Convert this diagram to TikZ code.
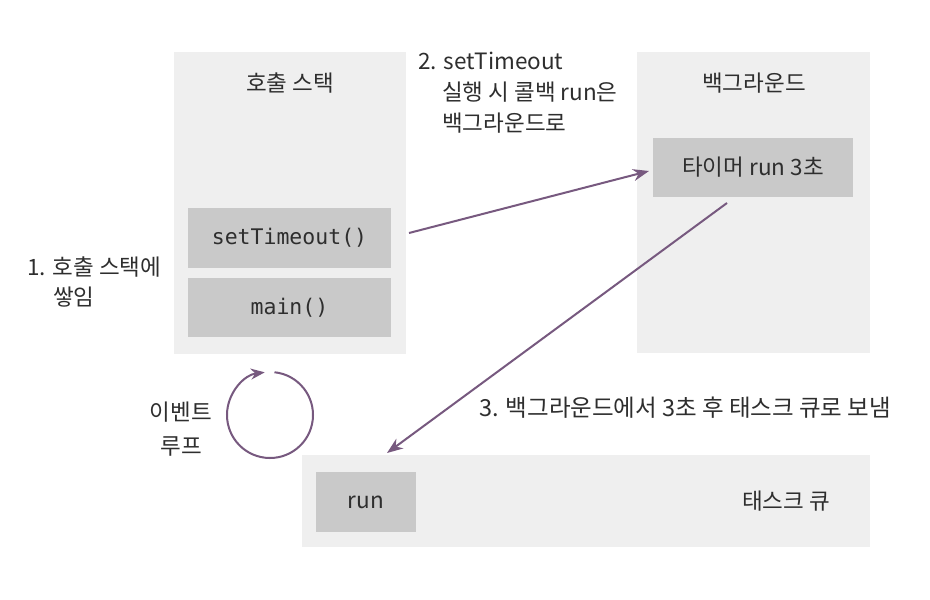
\documentclass[tikz,border=0pt]{standalone}
\usepackage{fontspec}
\setmainfont{Noto Sans CJK KR}
\newfontfamily\codefont{DejaVu Sans Mono}
\usetikzlibrary{arrows.meta}
\definecolor{panelbg}{HTML}{EFEFEF}
\definecolor{boxbg}{HTML}{C9C9C9}
\definecolor{arrowc}{HTML}{77597F}
\definecolor{txt}{HTML}{2E2E2E}
\begin{document}
\begin{tikzpicture}[x=1pt,y=-1pt,
  panel/.style={fill=panelbg,draw=none},
  inbox/.style={fill=boxbg,draw=none},
  lbl/.style={text=txt,font=\fontsize{22.5}{31}\selectfont,inner sep=0pt},
  codel/.style={text=txt,font=\codefont\fontsize{21.5}{26}\selectfont,inner sep=0pt},
  flow/.style={draw=arrowc,line width=2pt,-{Stealth[length=16pt,width=12pt]}}]
\useasboundingbox[fill=white] (0,0) rectangle (930,600);
% panels
\path[panel] (174,52) rectangle (406,354);
\path[panel] (637,52) rectangle (870,353);
\path[panel] (302,455) rectangle (870,547);
% inner boxes
\node[inbox,minimum width=203pt,minimum height=60pt] (st) at (289.5,238) {};
\node[codel] at (st) {setTimeout()};
\node[inbox,minimum width=203pt,minimum height=59pt] (mn) at (289.5,307.5) {};
\node[codel] at (mn) {main()};
\node[inbox,minimum width=200pt,minimum height=59pt] (tm) at (753,167.5) {};
\node[lbl] at (tm) {타이머 run 3초};
\node[inbox,minimum width=100pt,minimum height=60pt] (rq) at (366,502) {};
\node[lbl] at (rq) {run};
% titles
\node[lbl] (t1) at (290,83) {호출 스택};
\node[lbl] (t2) at (754,83) {백그라운드};
\node[lbl] (t3) at (786,501) {태스크 큐};
% labels
\node[lbl,anchor=north west,align=left] (l2) at (418,52) {2. setTimeout\\\hspace*{24pt}실행 시 콜백 run은\\\hspace*{24pt}백그라운드로};
\node[lbl,anchor=west,font=\fontsize{23.5}{28}\selectfont] (l3) at (479,408) {3. 백그라운드에서 3초 후 태스크 큐로 보냄};
\node[lbl,anchor=north west,align=left,font=\fontsize{22.5}{30}\selectfont] (l1) at (27,257) {1. 호출 스택에\\\hspace*{26pt}쌓임};
\node[lbl,align=center,font=\fontsize{22.5}{34}\selectfont] (l4) at (181,429) {이벤트\\루프};
% arrows
\coordinate (a1s) at (409,233);
\coordinate (a1e) at (649,171);
\draw[flow] (a1s) -- (a1e);
\coordinate (a2s) at (727,203);
\coordinate (a2e) at (387,453);
\draw[flow] (a2s) -- (a2e);
% event loop circle
\coordinate (lc) at (270,415);
\draw[draw=arrowc,line width=2pt,-{Stealth[length=14pt,width=11pt]}]
  ([shift={(-84:43)}]lc) arc[start angle=-84,end angle=263,radius=43];
\end{tikzpicture}
\end{document}
